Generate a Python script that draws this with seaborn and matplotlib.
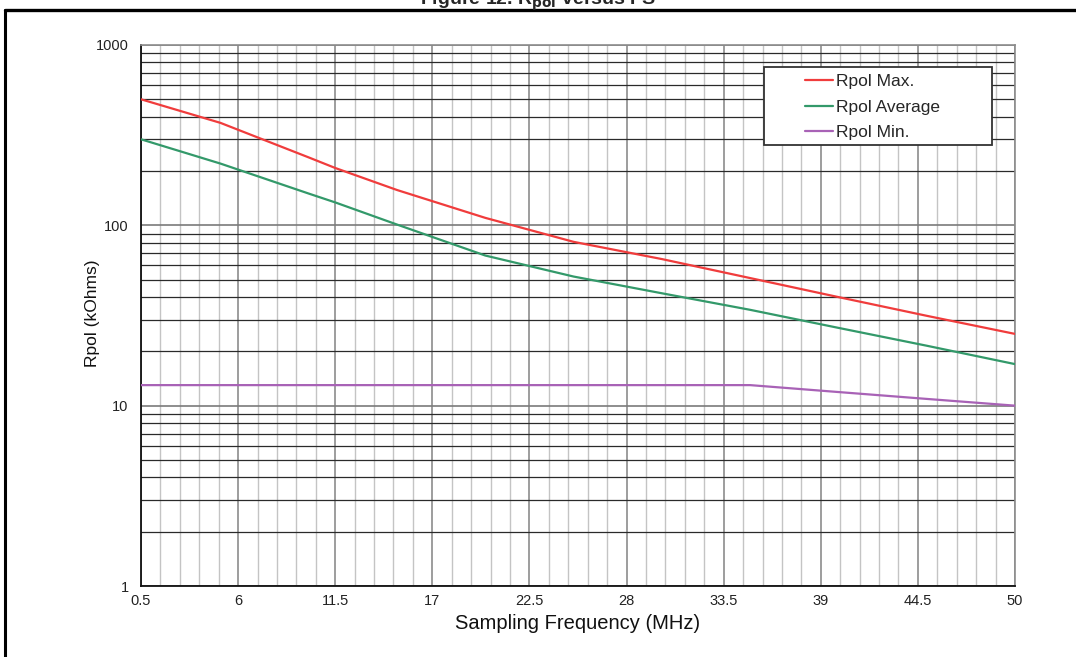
import numpy as np
import pandas as pd
import matplotlib
matplotlib.use("Agg")
import matplotlib.pyplot as plt
from matplotlib.lines import Line2D
from matplotlib.patches import Rectangle
from matplotlib.ticker import FixedLocator, NullFormatter
import seaborn as sns

# ------------------------------------------
# Daten
# ------------------------------------------
freq_mhz = [0.5, 5, 10, 11.5, 15, 20, 25, 30, 35, 40, 45, 50]
rpol_max = [500, 370, 238, 208, 157, 110, 81, 65, 51, 40, 31.5, 25]
rpol_avg = [300, 220, 150, 134, 101, 68, 52, 42, 34, 27, 21.5, 17]
rpol_min = [13, 13, 13, 13, 13, 13, 13, 13, 13, 11.9, 10.9, 10]

series_names = ["Rpol Max.", "Rpol Average", "Rpol Min."]
x_ticks = [0.5, 6, 11.5, 17, 22.5, 28, 33.5, 39, 44.5, 50]
y_ticks = [1, 10, 100, 1000]
y_tick_labels = ["1", "10", "100", "1000"]

df = pd.DataFrame({
    "Freq": freq_mhz * 3,
    "Rpol": rpol_max + rpol_avg + rpol_min,
    "Serie": [series_names[0]] * len(freq_mhz)
             + [series_names[1]] * len(freq_mhz)
             + [series_names[2]] * len(freq_mhz),
})

palette = {"Rpol Max.": "#f03c3c", "Rpol Average": "#33996a", "Rpol Min.": "#a862b6"}

# ------------------------------------------
# Plot
# ------------------------------------------
sns.set_style("white")
plt.rcParams["font.family"] = ["Liberation Sans", "DejaVu Sans"]

fig = plt.figure(figsize=(10.76, 6.57), dpi=100)
ax = fig.add_axes([141 / 1076, 1 - 586 / 657, 874 / 1076, 541 / 657])

sns.lineplot(data=df, x="Freq", y="Rpol", hue="Serie", palette=palette,
             linewidth=1.6, ax=ax, legend=False, zorder=5)

ax.set_yscale("log")
ax.set_xlim(0.5, 50)
ax.set_ylim(1, 1000)

# Gitter: vertikal grau, horizontal dunkel
minor_x = np.arange(0.5, 50.01, 1.1)
ax.xaxis.set_major_locator(FixedLocator(x_ticks))
ax.xaxis.set_minor_locator(FixedLocator(minor_x))
ax.set_xticklabels([str(t) for t in x_ticks])
ax.yaxis.set_major_locator(FixedLocator(y_ticks))
ax.set_yticklabels(y_tick_labels)
minor_y = [m * d for d in [1, 10, 100] for m in range(2, 10)]
ax.yaxis.set_minor_locator(FixedLocator(minor_y))
ax.yaxis.set_minor_formatter(NullFormatter())

ax.grid(which="minor", axis="x", color="#c4c4c4", linewidth=1.0)
ax.grid(which="major", axis="x", color="#8c8c8c", linewidth=1.2)
ax.grid(which="minor", axis="y", color="#2a2a2a", linewidth=0.9)
ax.grid(which="major", axis="y", color="#7a7a7a", linewidth=1.2)
ax.tick_params(which="both", length=0, labelsize=10.5, colors="#222222")
ax.tick_params(axis="x", pad=6)
ax.tick_params(axis="y", pad=9)

for side in ["top", "right"]:
    ax.spines[side].set_color("#8c8c8c")
    ax.spines[side].set_linewidth(1.2)
for side in ["left", "bottom"]:
    ax.spines[side].set_color("#111111")
    ax.spines[side].set_linewidth(1.3)

ax.set_xlabel("Sampling Frequency (MHz)", fontsize=14.5, color="#111111")
ax.xaxis.set_label_coords(0.5, (586 - 614) / 541)
ax.set_ylabel("Rpol (kOhms)", fontsize=12.5, color="#111111", va="center")
ax.yaxis.set_label_coords((93 - 141) / 874, (586 - 313) / 541)

# Legende: eigener Kasten, Eintraege ohne Rahmen
box = Rectangle(((764 - 141) / 874, (586 - 145) / 541), (992 - 764) / 874, 78 / 541,
                transform=ax.transAxes, facecolor="white", edgecolor="#333333",
                linewidth=1.3, zorder=8)
ax.add_patch(box)

handles = [Line2D([0], [0], color=palette[n], linewidth=1.6) for n in series_names]
leg = ax.legend(handles, series_names, loc="upper left",
                bbox_to_anchor=((805 - 141) / 874, (586 - 74) / 541),
                fontsize=12.5, frameon=False, handlelength=1.6,
                handletextpad=0.2, borderpad=0, labelspacing=0.6,
                borderaxespad=0)
leg.set_zorder(10)

# Rahmen und (abgeschnittener) Titel
y_frame = 1 - 10 / 657
x_frame = 5 / 1076
fig.add_artist(Line2D([x_frame, 1.0], [y_frame, y_frame], color="black", linewidth=2.4))
fig.add_artist(Line2D([x_frame, x_frame], [0.0, y_frame], color="black", linewidth=2.2))
fig.text(0.5, 1 - 5 / 657, r"Figure 12. R$_{\mathbf{pol}}$ versus FS",
         ha="center", va="baseline", fontsize=14, fontweight="bold")

plt.savefig("out.png", dpi=100)
